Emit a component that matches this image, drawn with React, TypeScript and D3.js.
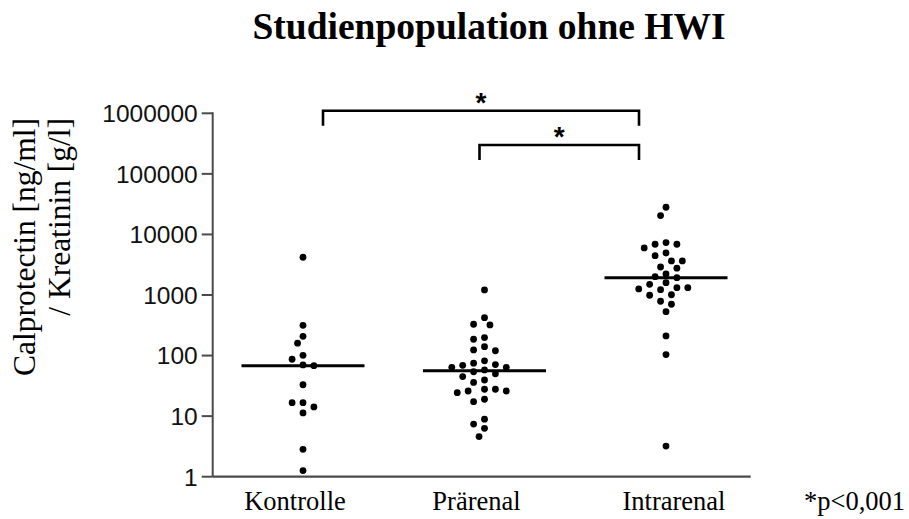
import React from "react";
import * as d3 from "d3";

// Groups on the x axis
const categories = ["Kontrolle", "Prärenal", "Intrarenal"];

// Calprotectin / creatinine ratio per patient, one list per group
const kontrolleValues = [4200, 316, 208, 160, 87, 68, 70, 101, 33, 16.7, 11.3, 14.2, 16.7, 2.83, 1.26];
const praerenalValues = [
  1211, 423, 320, 329, 198, 186, 140, 120, 124, 64, 82, 71, 69, 75, 64, 54, 50, 58, 45, 39.5, 36,
  26, 24.4, 27.8, 27.8, 26, 17.3, 19, 8.9, 7.4, 6.3, 4.6,
];
const intrarenalValues = [
  28100, 20500, 6890, 7330, 5980, 6890, 4940, 4460, 3650, 3650, 2770, 2900, 2010, 1935, 2230, 1600,
  1500, 1320, 1225, 1260, 1320, 990, 1010, 703, 789, 531, 211, 104, 3.2,
];
const groupValues = [kontrolleValues, praerenalValues, intrarenalValues];

// Log axis ticks
const yTickValues = [1, 10, 100, 1000, 10000, 100000, 1000000];

// Significance brackets between groups
const comparisonFrom = ["Kontrolle", "Prärenal"];
const comparisonTo = ["Intrarenal", "Intrarenal"];
const comparisonLevel = [1.1e6, 3.0e5];
const comparisonMark = ["*", "*"];

const titleText = "Studienpopulation ohne HWI";
const yTitleLines = ["Calprotectin [ng/ml]", "/ Kreatinin [g/l]"];
const footnoteText = "*p<0,001";

// Layout
const W = 909;
const H = 519;
const axisLeft = 212.7;
const axisRight = 750.7;
const axisTop = 113.3;
const axisBottom = 476.7;
const bracketNudge = [
  [20, -27],
  [-5, -27],
];
const labelNudge = [-8, -8, 8];
const serif = "'Liberation Serif', 'Times New Roman', Times, serif";
const sans = "'Liberation Sans', Arial, Helvetica, sans-serif";

type Dot = { v: number; px: number; py: number };

// Beeswarm: points are placed from top to bottom on a half-step grid,
// taking the free slot closest to the group centre.
function swarm(values: number[], cx: number, y: (v: number) => number, step: number, minDist: number): Dot[] {
  const pts = values.map((v, i) => ({ v, i, py: y(v) })).sort((a, b) => a.py - b.py || a.i - b.i);
  const placed: Dot[] = [];
  for (const p of pts) {
    for (let k = 0; k < 40; k++) {
      const slot = k === 0 ? 0 : (k % 2 === 1 ? -1 : 1) * Math.ceil(k / 2);
      const px = cx + (slot * step) / 2;
      const hit = placed.some((q) => Math.hypot(q.px - px, q.py - p.py) < minDist);
      if (!hit) {
        placed.push({ v: p.v, px, py: p.py });
        break;
      }
    }
  }
  return placed;
}

export default function App() {
  const y = d3.scaleLog().domain([1, 1e6]).range([axisBottom, axisTop]);
  const x = d3.scalePoint<string>().domain(categories).range([axisLeft + 90.3, axisRight - 84.7]);
  const medianHalf = 61.5;

  return (
    <svg width={W} height={H} style={{ position: "absolute", left: 0, top: 0, background: "#fff" }}>
      <text x={489} y={39} textAnchor="middle" fontFamily={serif} fontWeight="bold" fontSize={37.5} fill="#000">
        {titleText}
      </text>

      {yTitleLines.map((line, i) => (
        <text
          key={line}
          transform={`translate(${35 + i * 35},118) rotate(-90)`}
          textAnchor="end"
          fontFamily={serif}
          fontSize={31.5}
          fill="#000"
        >
          {line}
        </text>
      ))}

      {/* y axis */}
      <line x1={axisLeft} x2={axisLeft} y1={axisTop - 1} y2={axisBottom} stroke="#4a4a4a" strokeWidth={2} />
      {yTickValues.map((t) => (
        <g key={t}>
          <line x1={axisLeft - 11} x2={axisLeft} y1={y(t)} y2={y(t)} stroke="#4a4a4a" strokeWidth={2} />
          <text x={axisLeft - 15} y={y(t)} dy="0.36em" textAnchor="end" fontFamily={sans} fontSize={24.5} fill="#111">
            {t}
          </text>
        </g>
      ))}

      {/* x axis */}
      <line x1={axisLeft} x2={axisRight} y1={axisBottom} y2={axisBottom} stroke="#4a4a4a" strokeWidth={2.2} />
      {categories.map((c, i) => (
        <text key={c} x={(x(c) as number) + labelNudge[i]} y={510} textAnchor="middle" fontFamily={serif} fontSize={26.5} fill="#000">
          {c}
        </text>
      ))}
      <text x={804} y={510} fontFamily={serif} fontSize={26.5} fill="#000">
        {footnoteText}
      </text>

      {/* points and medians */}
      {categories.map((c, gi) => {
        const cx = x(c) as number;
        const dots = swarm(groupValues[gi], cx, y, 10.9, 8.6);
        const med = d3.median(groupValues[gi]) as number;
        return (
          <g key={c}>
            {dots.map((d, di) => (
              <circle key={di} cx={d.px} cy={d.py} r={3.4} fill="#000" />
            ))}
            <line x1={cx - medianHalf} x2={cx + medianHalf} y1={y(med)} y2={y(med)} stroke="#000" strokeWidth={3} />
          </g>
        );
      })}

      {/* significance brackets */}
      {comparisonFrom.map((from, i) => {
        const x0 = (x(from) as number) + bracketNudge[i][0];
        const x1 = (x(comparisonTo[i]) as number) + bracketNudge[i][1];
        const by = y(comparisonLevel[i]);
        const path = d3.path();
        path.moveTo(x0, by + 15);
        path.lineTo(x0, by);
        path.lineTo(x1, by);
        path.lineTo(x1, by + 15);
        return (
          <g key={i}>
            <path d={path.toString()} fill="none" stroke="#000" strokeWidth={2.6} />
            <text x={(x0 + x1) / 2} y={by + 1} textAnchor="middle" fontFamily={sans} fontWeight="bold" fontSize={28} fill="#000">
              {comparisonMark[i]}
            </text>
          </g>
        );
      })}
    </svg>
  );
}
